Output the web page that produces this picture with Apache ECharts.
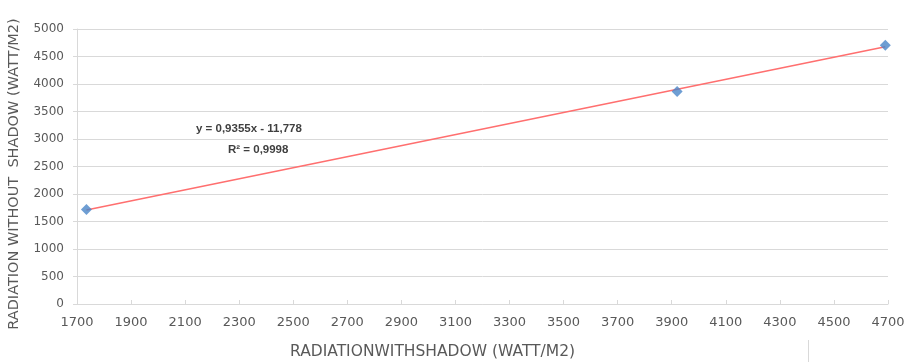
<!DOCTYPE html>
<html>
<head>
<meta charset="utf-8">
<script src="https://cdn.jsdelivr.net/npm/echarts@6/dist/echarts.min.js"></script>
<style>
  html, body { margin: 0; padding: 0; background: #fff; }
  #main { width: 909px; height: 362px; }
</style>
</head>
<body>
<div id="main"></div>
<script>
// readings from the picture
var withShadow = [1735, 3920, 4690]
var withoutShadow = [1720, 3865, 4705]
var equationText = 'y = 0,9355x - 11,778'
var r2Text = 'R² = 0,9998'

var points = withShadow.map(function (x, i) { return [x, withoutShadow[i]] })

// least squares trend line, drawn across the data range
function fitLine (xs, ys) {
  var n = xs.length
  var mx = xs.reduce(function (a, b) { return a + b }, 0) / n
  var my = ys.reduce(function (a, b) { return a + b }, 0) / n
  var sxy = 0, sxx = 0
  for (var i = 0; i < n; i++) {
    sxy += (xs[i] - mx) * (ys[i] - my)
    sxx += (xs[i] - mx) * (xs[i] - mx)
  }
  var k = sxy / sxx
  return { k: k, b: my - k * mx }
}
var fit = fitLine(withShadow, withoutShadow)
var xMin = Math.min.apply(null, withShadow)
var xMax = Math.max.apply(null, withShadow)
var trend = [[xMin, fit.k * xMin + fit.b], [xMax, fit.k * xMax + fit.b]]

var chart = echarts.init(document.getElementById('main'))
var labelColor = '#595959'
var font = 'DejaVu Sans, sans-serif'
var plain = function (v) { return String(v) }
chart.setOption({
  animation: false,
  textStyle: { fontFamily: font },
  grid: { left: 77, right: 21, top: 29, bottom: 58 },
  xAxis: {
    type: 'value',
    min: 1700,
    max: 4700,
    interval: 200,
    axisLine: { show: true, lineStyle: { color: '#d9d9d9' } },
    axisTick: { show: true, inside: true, length: 4, lineStyle: { color: '#d9d9d9' } },
    axisLabel: { color: labelColor, fontSize: 13, margin: 12, formatter: plain },
    splitLine: { show: false }
  },
  yAxis: {
    type: 'value',
    min: 0,
    max: 5000,
    interval: 500,
    axisLine: { show: true, lineStyle: { color: '#d9d9d9' } },
    axisTick: { show: true, length: 4, lineStyle: { color: '#d9d9d9' } },
    axisLabel: { color: labelColor, fontSize: 12, margin: 13, formatter: plain },
    splitLine: { show: true, lineStyle: { color: '#d9d9d9' } }
  },
  graphic: [
    {
      type: 'text',
      x: 7,
      y: 174,
      rotation: Math.PI / 2,
      style: {
        text: 'RADIATION WITHOUT  SHADOW (WATT/M2)',
        fill: labelColor, fontSize: 14.5, fontFamily: font,
        align: 'center', verticalAlign: 'top'
      }
    },
    {
      type: 'text',
      left: 290,
      top: 344,
      style: { text: 'RADIATIONWITHSHADOW (WATT/M2)', fill: labelColor, fontSize: 15.5, fontFamily: font }
    },
    {
      type: 'line',
      shape: { x1: 808.5, y1: 340, x2: 808.5, y2: 362 },
      style: { stroke: '#d9d9d9', lineWidth: 1 }
    },
    {
      type: 'text',
      left: 196,
      top: 123,
      style: { text: equationText, fill: '#404040', fontSize: 11.5, fontWeight: 'bold', fontFamily: 'Liberation Sans, Arial, sans-serif' }
    },
    {
      type: 'text',
      left: 228,
      top: 144,
      style: { text: r2Text, fill: '#404040', fontSize: 11.5, fontWeight: 'bold', fontFamily: 'Liberation Sans, Arial, sans-serif' }
    }
  ],
  series: [
    {
      name: 'trend',
      type: 'line',
      data: trend,
      symbol: 'none',
      lineStyle: { color: '#ff6f6f', width: 1.5 },
      z: 2
    },
    {
      name: 'data',
      type: 'scatter',
      data: points,
      symbol: 'diamond',
      symbolSize: 11,
      itemStyle: { color: '#4a86c8' },
      z: 3
    }
  ]
})
</script>
</body>
</html>
